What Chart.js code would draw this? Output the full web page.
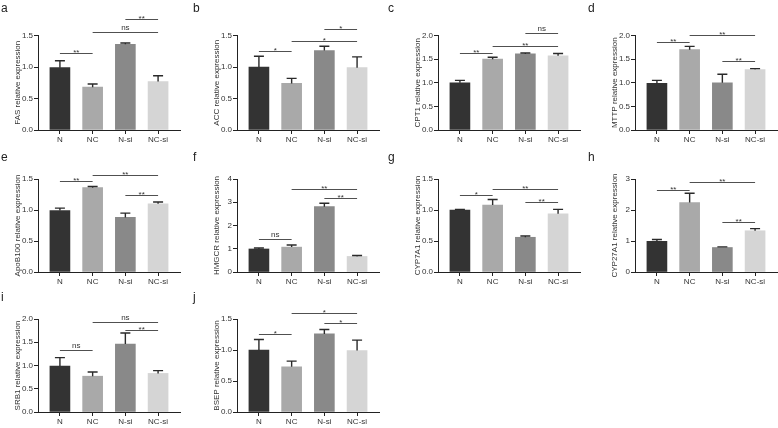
<!DOCTYPE html>
<html>
<head>
<meta charset="utf-8">
<script src="https://cdn.jsdelivr.net/npm/chart.js@4.4.0/dist/chart.umd.min.js"></script>
<style>
  html, body { margin: 0; padding: 0; background: #fff; }
  #fig { position: relative; width: 778px; height: 428px; overflow: hidden; font-family: "Liberation Sans", Arial, sans-serif; }
  #fig canvas { position: absolute; }
  .tag { position: absolute; font-size: 12px; line-height: 12px; color: #222; }
</style>
</head>
<body>
<div id="fig"></div>
<script>
// Ten small bar panels (mean + SD, significance brackets), one canvas each.
const categories = ["N", "NC", "N-si", "NC-si"];

// [from index, to index, bracket height (data units), label]
const fasMean = [0.99, 0.68, 1.36, 0.77];
const fasErr  = [0.11, 0.05, 0.02, 0.09];
const fasSig  = [[0, 1, 1.22, "**"], [1, 3, 1.56, "ns"], [2, 3, 1.76, "**"]];

const accMean = [1.00, 0.74, 1.26, 0.99];
const accErr  = [0.17, 0.08, 0.07, 0.17];
const accSig  = [[0, 1, 1.26, "*"], [1, 3, 1.41, "*"], [2, 3, 1.61, "*"]];

const cptMean = [1.00, 1.50, 1.61, 1.57];
const cptErr  = [0.05, 0.04, 0.02, 0.05];
const cptSig  = [[0, 1, 1.64, "**"], [1, 3, 1.77, "**"], [2, 3, 2.05, "ns"]];

const mttpMean = [0.99, 1.70, 1.00, 1.28];
const mttpErr  = [0.06, 0.07, 0.18, 0.02];
const mttpSig  = [[0, 1, 1.87, "**"], [1, 3, 2.01, "**"], [2, 3, 1.45, "**"]];

const apobMean = [0.99, 1.36, 0.88, 1.10];
const apobErr  = [0.04, 0.02, 0.07, 0.03];
const apobSig  = [[0, 1, 1.47, "**"], [1, 3, 1.57, "**"], [2, 3, 1.25, "**"]];

const hmgcrMean = [0.99, 1.07, 2.81, 0.67];
const hmgcrErr  = [0.04, 0.09, 0.15, 0.04];
const hmgcrSig  = [[0, 1, 1.41, "ns"], [1, 3, 3.57, "**"], [2, 3, 3.19, "**"]];

const cyp7Mean = [1.00, 1.08, 0.56, 0.94];
const cyp7Err  = [0.01, 0.09, 0.02, 0.07];
const cyp7Sig  = [[0, 1, 1.25, "*"], [1, 3, 1.34, "**"], [2, 3, 1.13, "**"]];

const cyp27Mean = [0.99, 2.24, 0.79, 1.33];
const cyp27Err  = [0.06, 0.30, 0.02, 0.07];
const cyp27Sig  = [[0, 1, 2.63, "**"], [1, 3, 2.91, "**"], [2, 3, 1.61, "**"]];

const srb1Mean = [0.99, 0.77, 1.46, 0.83];
const srb1Err  = [0.18, 0.09, 0.24, 0.06];
const srb1Sig  = [[0, 1, 1.33, "ns"], [1, 3, 1.94, "ns"], [2, 3, 1.77, "**"]];

const bsepMean = [1.00, 0.73, 1.26, 0.99];
const bsepErr  = [0.17, 0.09, 0.07, 0.17];
const bsepSig  = [[0, 1, 1.26, "*"], [1, 3, 1.59, "*"], [2, 3, 1.43, "*"]];

const panels = [
  { tag: "a", gene: "FAS",     mean: fasMean,   err: fasErr,   sig: fasSig,   max: 1.5, step: 0.5, col: 0, row: 0 },
  { tag: "b", gene: "ACC",     mean: accMean,   err: accErr,   sig: accSig,   max: 1.5, step: 0.5, col: 1, row: 0 },
  { tag: "c", gene: "CPT1",    mean: cptMean,   err: cptErr,   sig: cptSig,   max: 2.0, step: 0.5, col: 2, row: 0 },
  { tag: "d", gene: "MTTP",    mean: mttpMean,  err: mttpErr,  sig: mttpSig,  max: 2.0, step: 0.5, col: 3, row: 0 },
  { tag: "e", gene: "ApoB100", mean: apobMean,  err: apobErr,  sig: apobSig,  max: 1.5, step: 0.5, col: 0, row: 1 },
  { tag: "f", gene: "HMGCR",   mean: hmgcrMean, err: hmgcrErr, sig: hmgcrSig, max: 4,   step: 1,   col: 1, row: 1 },
  { tag: "g", gene: "CYP7A1",  mean: cyp7Mean,  err: cyp7Err,  sig: cyp7Sig,  max: 1.5, step: 0.5, col: 2, row: 1 },
  { tag: "h", gene: "CYP27A1", mean: cyp27Mean, err: cyp27Err, sig: cyp27Sig, max: 3,   step: 1,   col: 3, row: 1 },
  { tag: "i", gene: "SRB1",    mean: srb1Mean,  err: srb1Err,  sig: srb1Sig,  max: 2.0, step: 0.5, col: 0, row: 2 },
  { tag: "j", gene: "BSEP",    mean: bsepMean,  err: bsepErr,  sig: bsepSig,  max: 1.5, step: 0.5, col: 1, row: 2 }
];

// page layout (pixels)
const axisX = [38, 237, 438, 635];
const plotTop = [35.5, 179, 319];
const plotBottom = [130.5, 272.5, 412.5];
const canvasTop = [0, 141, 281];
const tagX = [1, 193, 388, 588];
const tagTop = [2, 151, 291];
const Y_AXIS_W = 40, X_AXIS_H = 18, PLOT_W = 142, PAD_R = 4;

const FONT = '"Liberation Sans", Arial, sans-serif';
const barColors = ["#333333", "#a9a9a9", "#898989", "#d5d5d5"];

// error whiskers (up only) and significance brackets
function overlay(p) {
  return {
    id: "overlay",
    afterDatasetsDraw(chart) {
      const { ctx } = chart;
      const x = chart.scales.x, y = chart.scales.y;
      const bars = chart.getDatasetMeta(0).data;
      ctx.save();
      ctx.strokeStyle = "#2a2a2a";
      ctx.lineWidth = 1.4;
      bars.forEach((bar, i) => {
        const yTop = y.getPixelForValue(p.mean[i] + p.err[i]);
        ctx.beginPath();
        ctx.moveTo(bar.x, bar.y);
        ctx.lineTo(bar.x, yTop);
        ctx.moveTo(bar.x - 5, yTop);
        ctx.lineTo(bar.x + 5, yTop);
        ctx.stroke();
      });
      ctx.strokeStyle = "#505050";
      ctx.lineWidth = 1;
      ctx.fillStyle = "#333";
      ctx.font = "8px " + FONT;
      ctx.textAlign = "center";
      ctx.textBaseline = "alphabetic";
      p.sig.forEach(([a, b, level, text]) => {
        const x1 = x.getPixelForValue(a), x2 = x.getPixelForValue(b);
        const yy = Math.round(y.getPixelForValue(level)) + 0.5;
        ctx.beginPath();
        ctx.moveTo(x1, yy);
        ctx.lineTo(x2, yy);
        ctx.stroke();
        ctx.fillText(text, (x1 + x2) / 2, text === "ns" ? yy - 3 : yy + 1);
      });
      ctx.restore();
    }
  };
}

const fig = document.getElementById("fig");

panels.forEach(p => {
  const left = axisX[p.col] - Y_AXIS_W;
  const top = canvasTop[p.row];
  const w = Y_AXIS_W + PLOT_W + PAD_R;
  const h = plotBottom[p.row] + X_AXIS_H - top;

  const canvas = document.createElement("canvas");
  canvas.width = w;
  canvas.height = h;
  canvas.style.left = left + "px";
  canvas.style.top = top + "px";
  fig.appendChild(canvas);

  const tag = document.createElement("div");
  tag.className = "tag";
  tag.textContent = p.tag;
  tag.style.left = tagX[p.col] + "px";
  tag.style.top = tagTop[p.row] + "px";
  fig.appendChild(tag);

  new Chart(canvas, {
    type: "bar",
    data: {
      labels: categories.map((_, i) => i),
      datasets: [{ data: p.mean, backgroundColor: barColors, barThickness: 20, borderWidth: 0 }]
    },
    options: {
      responsive: false,
      animation: false,
      devicePixelRatio: 1,
      events: [],
      layout: { padding: { top: plotTop[p.row] - top, right: PAD_R, bottom: 0, left: 0 } },
      plugins: { legend: { display: false }, tooltip: { enabled: false } },
      scales: {
        x: {
          type: "linear",
          min: -0.67, max: 3.67,
          offset: false,
          afterBuildTicks: s => { s.ticks = categories.map((_, i) => ({ value: i })); },
          afterFit: s => { s.height = X_AXIS_H; },
          ticks: {
            callback: v => categories[v],
            autoSkip: false, maxRotation: 0, padding: 1,
            color: "#333", font: { size: 8, family: FONT }
          },
          grid: { drawOnChartArea: false, offset: false, tickLength: 4, color: "#222" },
          border: { color: "#222", width: 1 }
        },
        y: {
          min: 0, max: p.max,
          afterFit: s => { s.width = Y_AXIS_W; },
          ticks: {
            stepSize: p.step,
            callback: v => v.toFixed(p.step < 1 ? 1 : 0),
            padding: 1,
            color: "#333", font: { size: 8, family: FONT }
          },
          grid: { drawOnChartArea: false, tickLength: 4, color: "#222" },
          border: { color: "#222", width: 1 },
          title: {
            display: true,
            text: p.gene + " relative expression",
            color: "#333",
            font: { size: 8, family: FONT },
            padding: { top: 15, bottom: 0 }
          }
        }
      }
    },
    plugins: [overlay(p)]
  });
});
</script>
</body>
</html>
